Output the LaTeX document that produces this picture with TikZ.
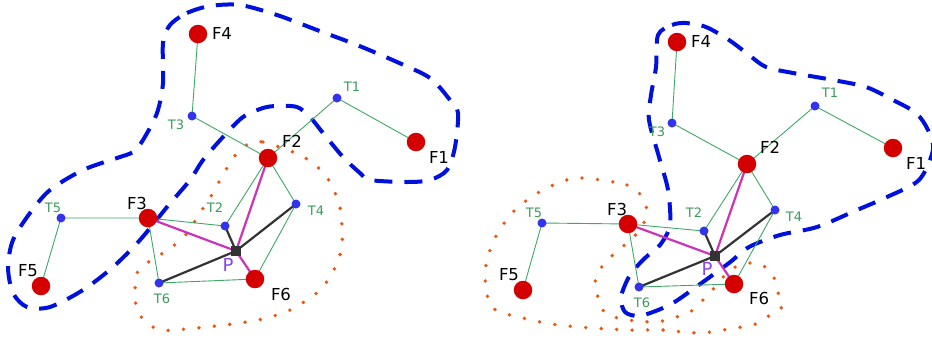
\documentclass[tikz,border=0pt]{standalone}
\usepackage{fontspec}
\setmainfont{DejaVu Sans}
\begin{document}
\begin{tikzpicture}[x=1pt,y=-1pt,
  fnode/.style={circle,fill=fred,inner sep=0pt,minimum size=18.5pt},
  tnode/.style={circle,fill=tblue,inner sep=0pt,minimum size=9pt},
  pnode/.style={rectangle,fill=pgray,inner sep=0pt,minimum size=10.5pt},
  flab/.style={font=\fontsize{16.5}{19}\selectfont,text=black,inner sep=0pt},
  tlab/.style={font=\fontsize{13}{15}\selectfont,text=tgreen,inner sep=0pt},
  plab/.style={font=\fontsize{18}{21}\selectfont,text=ppurple,inner sep=0pt},
  gedge/.style={draw=egreen,line width=0.9pt},
  medge/.style={draw=emag,line width=2.2pt},
  kedge/.style={draw=pgray,line width=2.2pt},
  bloop/.style={draw=lblue,line width=4pt,dash pattern=on 18pt off 12pt},
  oloop/.style={draw=lorange,line width=3.8pt,line cap=round,dash pattern=on 0pt off 15.5pt}
]
\definecolor{fred}{HTML}{D40000}
\definecolor{tblue}{HTML}{3333EE}
\definecolor{pgray}{HTML}{333333}
\definecolor{tgreen}{HTML}{3A9A5A}
\definecolor{ppurple}{HTML}{8844EE}
\definecolor{egreen}{HTML}{3FA866}
\definecolor{emag}{HTML}{CC33BB}
\definecolor{lblue}{HTML}{0011DD}
\definecolor{lorange}{HTML}{EE5511}
\useasboundingbox (0,0) rectangle (932,338);

% ---------- loops ----------
\draw[bloop] plot[smooth cycle,tension=0.5] coordinates {(170,25) (187,13) (210,6) (240,5) (277,15) (317,30) (357,45) (397,62) (430,78) (450,100) (458,113) (455,147) (447,170) (430,180) (407,182) (370,180) (360,173) (343,157) (323,133) (310,117) (297,107) (277,106) (263,108) (243,117) (223,137) (203,160) (190,180) (167,207) (140,240) (113,267) (83,290) (50,307) (27,307) (13,293) (8,267) (13,240) (30,213) (50,190) (83,170) (117,158) (133,152) (143,140) (157,113) (163,83) (163,43)};
\draw[oloop] plot[smooth cycle,tension=0.5] coordinates {(250,143) (263,142) (293,152) (313,163) (330,182) (340,207) (342,227) (342,247) (337,263) (330,277) (320,290) (307,300) (290,310) (267,318) (240,323) (207,327) (173,330) (160,330) (147,323) (137,310) (135,290) (137,273) (147,263) (160,255) (177,243) (188,232) (200,213) (213,193) (220,180) (230,163) (238,152)};
\draw[oloop] plot[smooth cycle,tension=0.5] coordinates {(577,178) (627,185) (642,197) (647,213) (640,230) (628,242) (615,253) (603,265) (595,282) (598,297) (605,313) (622,319) (638,321) (657,322) (673,318) (690,312) (703,300) (715,287) (728,272) (740,265) (757,263) (772,273) (777,290) (782,307) (767,317) (753,325) (735,328) (700,333) (663,330) (630,330) (593,328) (558,325) (523,318) (492,307) (485,272) (495,238) (515,210) (543,190)};
\draw[bloop] plot[smooth cycle,tension=0.5] coordinates {(658,35) (672,25) (686,23) (706,27) (729,40) (749,55) (766,67) (793,73) (833,80) (866,87) (893,100) (916,113) (928,130) (933,150) (919,180) (887,197) (857,210) (817,227) (780,235) (749,247) (729,263) (696,287) (673,303) (653,312) (638,316) (625,312) (621,297) (630,275) (645,258) (660,245) (670,225) (668,190) (659,157) (649,120) (651,95) (656,67)};

% ---------- left panel nodes ----------
\coordinate (aF4) at (198,34);
\coordinate (aT3) at (192,116);
\coordinate (aT1) at (337,98);
\coordinate (aF1) at (416,142);
\coordinate (aF2) at (268,158);
\coordinate (aF3) at (148,218);
\coordinate (aT5) at (61,218);
\coordinate (aF5) at (41,286);
\coordinate (aT2) at (225,226);
\coordinate (aT4) at (296,204);
\coordinate (aP) at (236,251);
\coordinate (aF6) at (255,279);
\coordinate (aT6) at (159,283);
% ---------- right panel nodes ----------
\coordinate (bF4) at (677,42);
\coordinate (bT3) at (672,123);
\coordinate (bT1) at (815,106);
\coordinate (bF1) at (893,148);
\coordinate (bF2) at (747,164);
\coordinate (bF3) at (628,224);
\coordinate (bT5) at (542,223);
\coordinate (bF5) at (523,290);
\coordinate (bT2) at (704,231);
\coordinate (bT4) at (775,210);
\coordinate (bP) at (715,256);
\coordinate (bF6) at (734,284);
\coordinate (bT6) at (639,287);

\foreach \p in {a,b}{
  \draw[gedge] (\p F4) -- (\p T3) -- (\p F2) -- (\p T1) -- (\p F1);
  \draw[gedge] (\p F5) -- (\p T5) -- (\p F3) -- (\p T2) -- (\p F2) -- (\p T4) -- (\p F6) -- (\p T6) -- (\p F3);
  \draw[medge] (\p F3) -- (\p P);
  \draw[medge] (\p F2) -- (\p P);
  \draw[medge] (\p F6) -- (\p P);
  \draw[kedge] (\p T2) -- (\p P);
  \draw[kedge] (\p T4) -- (\p P);
  \draw[kedge] (\p T6) -- (\p P);
  \foreach \f in {F1,F2,F3,F4,F5,F6}{\node[fnode] (\p\f n) at (\p\f) {};}
  \foreach \t in {T1,T2,T3,T4,T5,T6}{\node[tnode] (\p\t n) at (\p\t) {};}
  \node[pnode] (\p Pn) at (\p P) {};
}

% ---------- labels left ----------
\node[flab] (laF4) at (222,33) {F4};
\node[flab] (laF1) at (439,157) {F1};
\node[flab] (laF2) at (292,141) {F2};
\node[flab] (laF3) at (137,203) {F3};
\node[flab] (laF5) at (28,271) {F5};
\node[flab] (laF6) at (281,294) {F6};
\node[tlab] (laT1) at (352,87) {T1};
\node[tlab] (laT2) at (215,208) {T2};
\node[tlab] (laT3) at (176,125) {T3};
\node[tlab] (laT4) at (316,211) {T4};
\node[tlab] (laT5) at (53,208) {T5};
\node[tlab] (laT6) at (162,299) {T6};
\node[plab] (laP) at (228,265) {P};
% ---------- labels right ----------
\node[flab] (lbF4) at (701,41) {F4};
\node[flab] (lbF1) at (916,163) {F1};
\node[flab] (lbF2) at (770,147) {F2};
\node[flab] (lbF3) at (617,209) {F3};
\node[flab] (lbF5) at (509,275) {F5};
\node[flab] (lbF6) at (759,298) {F6};
\node[tlab] (lbT1) at (830,93) {T1};
\node[tlab] (lbT2) at (694,213) {T2};
\node[tlab] (lbT3) at (657,132) {T3};
\node[tlab] (lbT4) at (794,217) {T4};
\node[tlab] (lbT5) at (534,213) {T5};
\node[tlab] (lbT6) at (642,303) {T6};
\node[plab] (lbP) at (707,269) {P};
\end{tikzpicture}
\end{document}
